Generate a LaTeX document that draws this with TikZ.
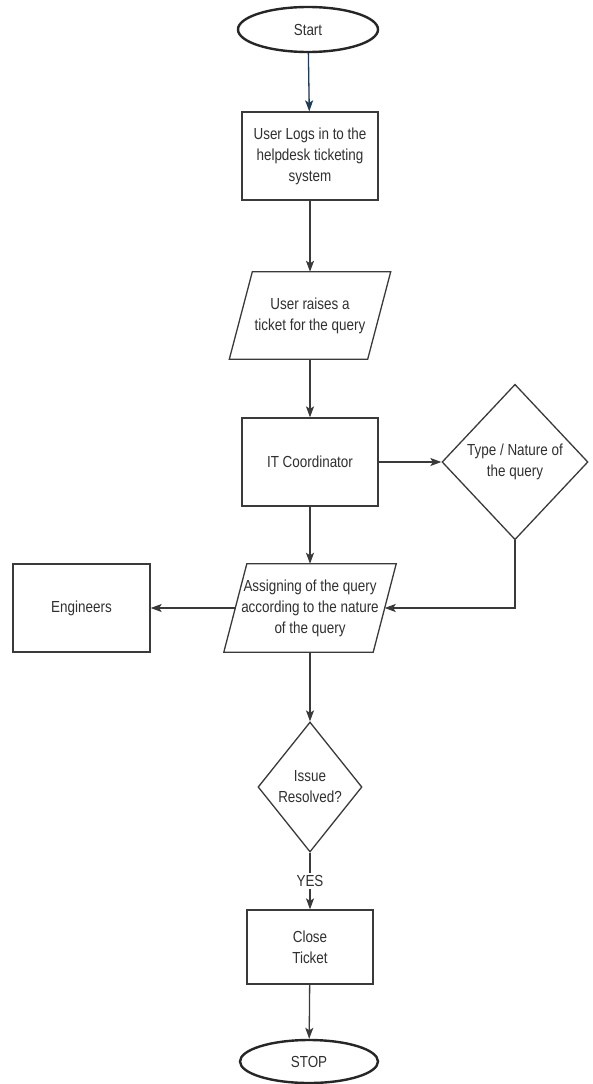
\documentclass[tikz,border=0pt]{standalone}
\usepackage{fontspec}
\setmainfont{Liberation Sans}[FakeStretch=0.84]
\usetikzlibrary{shapes.geometric,arrows.meta}
\definecolor{ln}{HTML}{3A3A3A}
\definecolor{tx}{HTML}{303030}
\definecolor{bl}{HTML}{1F3B5A}
\tikzset{
  base/.style={inner sep=0pt, align=center, text=tx, font=\fontsize{16}{21}\selectfont},
  term/.style={base, ellipse, draw=black!85, line width=2.4pt, minimum width=140pt, minimum height=45pt},
  proc/.style={base, rectangle, draw=ln, line width=1.3pt},
  iobox/.style={base, rectangle, draw=none},
  para/.style={draw=ln, line width=1.3pt, line join=miter},
  dec/.style={base, diamond, aspect=0.8, draw=ln, line width=1.3pt},
  arr/.style={draw=ln, line width=1.3pt, -{Stealth[length=11pt,width=8pt,inset=2.5pt]}},
}
\begin{document}
\begin{tikzpicture}[x=1pt,y=-1pt]
\useasboundingbox (0,0) rectangle (592,1084);
\fill[white] (0,0) rectangle (592,1084);

\node[term] (start) at (308,29.5) {Start};
\node[proc, minimum width=136pt, minimum height=88pt] (login) at (310,156) {User Logs in to the\\helpdesk ticketing\\system};
\node[iobox, minimum width=138pt, minimum height=87pt] (raise) at (310,315.5) {User raises a\\ticket for the query};
\draw[para] ([xshift=11.5pt]raise.north west) -- ([xshift=11.5pt]raise.north east) -- ([xshift=-11.5pt]raise.south east) -- ([xshift=-11.5pt]raise.south west) -- cycle;
\node[proc, minimum width=136pt, minimum height=88pt] (itc) at (310,462) {IT Coordinator};
\node[dec, minimum width=146pt, minimum height=145pt] (type) at (515,462) {Type / Nature of\\the query};
\node[iobox, minimum width=149pt, minimum height=88pt] (assign) at (310,608) {Assigning of the query\\according to the nature\\of the query};
\draw[para] ([xshift=11.5pt]assign.north west) -- ([xshift=11.5pt]assign.north east) -- ([xshift=-11.5pt]assign.south east) -- ([xshift=-11.5pt]assign.south west) -- cycle;
\node[proc, minimum width=137pt, minimum height=88pt] (eng) at (81.5,608) {Engineers};
\node[dec, minimum width=104pt, minimum height=130pt] (issue) at (310,787) {Issue\\Resolved?};
\node[proc, minimum width=126pt, minimum height=74pt] (close) at (310,947) {Close\\Ticket};
\node[term, minimum width=138pt, minimum height=43pt] (stop) at (309,1061.5) {STOP};

\draw[arr, draw=bl, fill=bl] (start) -- (login);
\draw[arr] (login) -- (raise);
\draw[arr] (raise) -- (itc);
\draw[arr] (itc.east) -- (type.west);
\draw[arr] (itc) -- (assign);
\draw[arr] (type.south) |- (assign.east);
\draw[arr] (assign.west) -- (eng.east);
\draw[arr] (assign) -- (issue);
\draw[arr] (issue) -- node[base, fill=white, inner sep=2pt] {YES} (close);
\draw[arr] (close) -- (stop);
\end{tikzpicture}
\end{document}
